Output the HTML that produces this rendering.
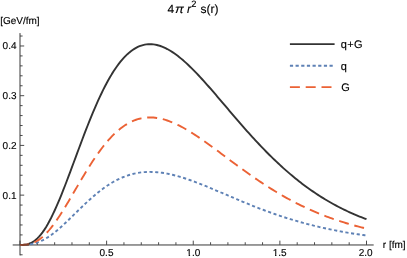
<!DOCTYPE html>
<html><head><meta charset="utf-8"><style>
html,body{margin:0;padding:0;background:#fff;}
body{width:407px;height:258px;overflow:hidden;position:relative;}
svg{position:absolute;left:0;top:0;will-change:transform;}
text{font-family:"Liberation Sans",sans-serif;fill:#000;stroke:#000;stroke-width:0.13px;text-rendering:geometricPrecision;}
</style></head><body>
<svg width="407" height="258" viewBox="0 0 407 258">
<rect width="407" height="258" fill="#fff"/>
<g fill="none" stroke="#383838" stroke-width="1">
<path d="M12.7 244.97 H373.7"/>
<path d="M20.0 33.1 V255.4"/>
</g>
<g fill="none" stroke="#383838" stroke-width="0.9">
<path d="M20.00 244.85 V240.65 M37.33 244.85 V242.25 M54.65 244.85 V242.25 M71.97 244.85 V242.25 M89.30 244.85 V242.25 M106.62 244.85 V240.65 M123.95 244.85 V242.25 M141.28 244.85 V242.25 M158.60 244.85 V242.25 M175.93 244.85 V242.25 M193.25 244.85 V240.65 M210.57 244.85 V242.25 M227.90 244.85 V242.25 M245.22 244.85 V242.25 M262.55 244.85 V242.25 M279.88 244.85 V240.65 M297.20 244.85 V242.25 M314.52 244.85 V242.25 M331.85 244.85 V242.25 M349.18 244.85 V242.25 M366.50 244.85 V240.65"/>
<path d="M20.00 254.79 H22.60 M20.00 244.85 H24.20 M20.00 234.91 H22.60 M20.00 224.96 H22.60 M20.00 215.02 H22.60 M20.00 205.07 H22.60 M20.00 195.13 H24.20 M20.00 185.19 H22.60 M20.00 175.24 H22.60 M20.00 165.30 H22.60 M20.00 155.35 H22.60 M20.00 145.41 H24.20 M20.00 135.47 H22.60 M20.00 125.52 H22.60 M20.00 115.58 H22.60 M20.00 105.63 H22.60 M20.00 95.69 H24.20 M20.00 85.75 H22.60 M20.00 75.80 H22.60 M20.00 65.86 H22.60 M20.00 55.91 H22.60 M20.00 45.97 H24.20 M20.00 36.03 H22.60"/>
</g>
<g fill="none" stroke-linejoin="round">
<path d="M20.00 244.85 L21.73 244.84 L23.46 244.78 L25.20 244.62 L26.93 244.33 L28.66 243.87 L30.39 243.23 L32.13 242.37 L33.86 241.30 L35.59 239.99 L37.33 238.45 L39.06 236.66 L40.79 234.63 L42.52 232.37 L44.26 229.88 L45.99 227.15 L47.72 224.22 L49.45 221.07 L51.19 217.73 L52.92 214.20 L54.65 210.51 L56.38 206.65 L58.12 202.65 L59.85 198.53 L61.58 194.28 L63.31 189.93 L65.05 185.50 L66.78 180.99 L68.51 176.42 L70.24 171.80 L71.97 167.16 L73.71 162.49 L75.44 157.81 L77.17 153.13 L78.91 148.47 L80.64 143.84 L82.37 139.24 L84.10 134.69 L85.83 130.19 L87.57 125.76 L89.30 121.40 L91.03 117.12 L92.77 112.93 L94.50 108.83 L96.23 104.83 L97.96 100.94 L99.70 97.16 L101.43 93.49 L103.16 89.95 L104.89 86.52 L106.62 83.23 L108.36 80.06 L110.09 77.02 L111.82 74.12 L113.56 71.35 L115.29 68.72 L117.02 66.23 L118.75 63.88 L120.48 61.66 L122.22 59.58 L123.95 57.64 L125.68 55.84 L127.42 54.17 L129.15 52.64 L130.88 51.24 L132.61 49.97 L134.34 48.84 L136.08 47.84 L137.81 46.96 L139.54 46.21 L141.28 45.58 L143.01 45.07 L144.74 44.67 L146.47 44.40 L148.21 44.23 L149.94 44.18 L151.67 44.23 L153.40 44.39 L155.13 44.65 L156.87 45.01 L158.60 45.46 L160.33 46.00 L162.06 46.63 L163.80 47.35 L165.53 48.16 L167.26 49.04 L169.00 50.00 L170.73 51.03 L172.46 52.14 L174.19 53.31 L175.93 54.55 L177.66 55.84 L179.39 57.20 L181.12 58.62 L182.86 60.09 L184.59 61.60 L186.32 63.17 L188.05 64.78 L189.78 66.44 L191.52 68.13 L193.25 69.86 L194.98 71.63 L196.72 73.43 L198.45 75.26 L200.18 77.12 L201.91 79.00 L203.65 80.91 L205.38 82.84 L207.11 84.78 L208.84 86.75 L210.58 88.73 L212.31 90.72 L214.04 92.73 L215.77 94.74 L217.51 96.76 L219.24 98.79 L220.97 100.83 L222.70 102.87 L224.44 104.90 L226.17 106.94 L227.90 108.98 L229.63 111.02 L231.37 113.05 L233.10 115.08 L234.83 117.10 L236.56 119.12 L238.29 121.13 L240.03 123.13 L241.76 125.11 L243.49 127.09 L245.22 129.06 L246.96 131.01 L248.69 132.95 L250.42 134.88 L252.16 136.79 L253.89 138.68 L255.62 140.56 L257.35 142.42 L259.09 144.27 L260.82 146.10 L262.55 147.91 L264.28 149.70 L266.01 151.47 L267.75 153.22 L269.48 154.96 L271.21 156.67 L272.94 158.36 L274.68 160.03 L276.41 161.68 L278.14 163.31 L279.88 164.92 L281.61 166.51 L283.34 168.08 L285.07 169.62 L286.81 171.15 L288.54 172.65 L290.27 174.13 L292.00 175.59 L293.74 177.02 L295.47 178.44 L297.20 179.83 L298.93 181.20 L300.67 182.55 L302.40 183.88 L304.13 185.18 L305.86 186.47 L307.60 187.73 L309.33 188.97 L311.06 190.19 L312.79 191.39 L314.52 192.57 L316.26 193.73 L317.99 194.87 L319.72 195.98 L321.45 197.08 L323.19 198.16 L324.92 199.22 L326.65 200.25 L328.38 201.27 L330.12 202.27 L331.85 203.25 L333.58 204.21 L335.31 205.16 L337.05 206.08 L338.78 206.99 L340.51 207.87 L342.25 208.74 L343.98 209.60 L345.71 210.43 L347.44 211.25 L349.18 212.06 L350.91 212.84 L352.64 213.61 L354.37 214.36 L356.11 215.10 L357.84 215.82 L359.57 216.53 L361.30 217.22 L363.04 217.90 L364.77 218.56 L366.50 219.21" stroke="#333" stroke-width="1.9"/>
<path d="M20.00 244.85 L21.73 244.85 L23.46 244.82 L25.20 244.77 L26.93 244.66 L28.66 244.49 L30.39 244.26 L32.13 243.95 L33.86 243.56 L35.59 243.08 L37.33 242.52 L39.06 241.87 L40.79 241.14 L42.52 240.31 L44.26 239.41 L45.99 238.42 L47.72 237.35 L49.45 236.21 L51.19 234.99 L52.92 233.71 L54.65 232.37 L56.38 230.97 L58.12 229.51 L59.85 228.01 L61.58 226.47 L63.31 224.89 L65.05 223.28 L66.78 221.64 L68.51 219.98 L70.24 218.30 L71.97 216.61 L73.71 214.91 L75.44 213.21 L77.17 211.51 L78.91 209.82 L80.64 208.13 L82.37 206.46 L84.10 204.81 L85.83 203.17 L87.57 201.56 L89.30 199.98 L91.03 198.42 L92.77 196.90 L94.50 195.41 L96.23 193.95 L97.96 192.54 L99.70 191.16 L101.43 189.83 L103.16 188.54 L104.89 187.30 L106.62 186.10 L108.36 184.95 L110.09 183.85 L111.82 182.79 L113.56 181.78 L115.29 180.83 L117.02 179.92 L118.75 179.07 L120.48 178.26 L122.22 177.50 L123.95 176.80 L125.68 176.14 L127.42 175.54 L129.15 174.98 L130.88 174.47 L132.61 174.01 L134.34 173.60 L136.08 173.24 L137.81 172.92 L139.54 172.64 L141.28 172.41 L143.01 172.23 L144.74 172.09 L146.47 171.99 L148.21 171.93 L149.94 171.91 L151.67 171.93 L153.40 171.98 L155.13 172.08 L156.87 172.21 L158.60 172.37 L160.33 172.57 L162.06 172.80 L163.80 173.06 L165.53 173.35 L167.26 173.67 L169.00 174.02 L170.73 174.40 L172.46 174.80 L174.19 175.22 L175.93 175.67 L177.66 176.15 L179.39 176.64 L181.12 177.15 L182.86 177.69 L184.59 178.24 L186.32 178.81 L188.05 179.40 L189.78 180.00 L191.52 180.61 L193.25 181.24 L194.98 181.88 L196.72 182.54 L198.45 183.20 L200.18 183.88 L201.91 184.56 L203.65 185.26 L205.38 185.96 L207.11 186.67 L208.84 187.38 L210.58 188.10 L212.31 188.82 L214.04 189.55 L215.77 190.29 L217.51 191.02 L219.24 191.76 L220.97 192.50 L222.70 193.24 L224.44 193.98 L226.17 194.72 L227.90 195.46 L229.63 196.20 L231.37 196.94 L233.10 197.68 L234.83 198.41 L236.56 199.15 L238.29 199.88 L240.03 200.60 L241.76 201.33 L243.49 202.04 L245.22 202.76 L246.96 203.47 L248.69 204.17 L250.42 204.87 L252.16 205.57 L253.89 206.26 L255.62 206.94 L257.35 207.62 L259.09 208.29 L260.82 208.95 L262.55 209.61 L264.28 210.26 L266.01 210.91 L267.75 211.54 L269.48 212.17 L271.21 212.80 L272.94 213.41 L274.68 214.02 L276.41 214.62 L278.14 215.21 L279.88 215.80 L281.61 216.37 L283.34 216.94 L285.07 217.50 L286.81 218.06 L288.54 218.60 L290.27 219.14 L292.00 219.67 L293.74 220.19 L295.47 220.71 L297.20 221.21 L298.93 221.71 L300.67 222.20 L302.40 222.69 L304.13 223.16 L305.86 223.63 L307.60 224.09 L309.33 224.54 L311.06 224.98 L312.79 225.42 L314.52 225.85 L316.26 226.27 L317.99 226.68 L319.72 227.09 L321.45 227.49 L323.19 227.88 L324.92 228.26 L326.65 228.64 L328.38 229.01 L330.12 229.37 L331.85 229.73 L333.58 230.08 L335.31 230.42 L337.05 230.76 L338.78 231.09 L340.51 231.41 L342.25 231.73 L343.98 232.04 L345.71 232.34 L347.44 232.64 L349.18 232.93 L350.91 233.21 L352.64 233.49 L354.37 233.77 L356.11 234.04 L357.84 234.30 L359.57 234.56 L361.30 234.81 L363.04 235.05 L364.77 235.29 L366.50 235.53" stroke="#5e81b5" stroke-width="1.9" stroke-dasharray="3.15 2.57" stroke-dashoffset="1.2"/>
<path d="M20.00 244.85 L21.73 244.84 L23.46 244.81 L25.20 244.70 L26.93 244.52 L28.66 244.23 L30.39 243.82 L32.13 243.28 L33.86 242.59 L35.59 241.76 L37.33 240.78 L39.06 239.65 L40.79 238.36 L42.52 236.93 L44.26 235.34 L45.99 233.61 L47.72 231.75 L49.45 229.75 L51.19 227.63 L52.92 225.39 L54.65 223.04 L56.38 220.59 L58.12 218.06 L59.85 215.43 L61.58 212.74 L63.31 209.98 L65.05 207.16 L66.78 204.30 L68.51 201.40 L70.24 198.47 L71.97 195.51 L73.71 192.55 L75.44 189.58 L77.17 186.61 L78.91 183.65 L80.64 180.71 L82.37 177.79 L84.10 174.90 L85.83 172.04 L87.57 169.23 L89.30 166.46 L91.03 163.74 L92.77 161.08 L94.50 158.48 L96.23 155.94 L97.96 153.47 L99.70 151.07 L101.43 148.74 L103.16 146.49 L104.89 144.31 L106.62 142.22 L108.36 140.21 L110.09 138.28 L111.82 136.44 L113.56 134.68 L115.29 133.01 L117.02 131.43 L118.75 129.93 L120.48 128.52 L122.22 127.20 L123.95 125.97 L125.68 124.83 L127.42 123.77 L129.15 122.80 L130.88 121.91 L132.61 121.10 L134.34 120.38 L136.08 119.75 L137.81 119.19 L139.54 118.71 L141.28 118.31 L143.01 117.99 L144.74 117.74 L146.47 117.56 L148.21 117.46 L149.94 117.42 L151.67 117.46 L153.40 117.56 L155.13 117.72 L156.87 117.95 L158.60 118.24 L160.33 118.58 L162.06 118.98 L163.80 119.44 L165.53 119.95 L167.26 120.51 L169.00 121.12 L170.73 121.78 L172.46 122.48 L174.19 123.22 L175.93 124.01 L177.66 124.83 L179.39 125.69 L181.12 126.59 L182.86 127.52 L184.59 128.49 L186.32 129.48 L188.05 130.51 L189.78 131.56 L191.52 132.63 L193.25 133.73 L194.98 134.86 L196.72 136.00 L198.45 137.16 L200.18 138.34 L201.91 139.54 L203.65 140.75 L205.38 141.97 L207.11 143.21 L208.84 144.46 L210.58 145.71 L212.31 146.98 L214.04 148.25 L215.77 149.53 L217.51 150.82 L219.24 152.10 L220.97 153.40 L222.70 154.69 L224.44 155.98 L226.17 157.28 L227.90 158.57 L229.63 159.87 L231.37 161.16 L233.10 162.45 L234.83 163.73 L236.56 165.01 L238.29 166.29 L240.03 167.56 L241.76 168.82 L243.49 170.07 L245.22 171.32 L246.96 172.56 L248.69 173.79 L250.42 175.02 L252.16 176.23 L253.89 177.43 L255.62 178.63 L257.35 179.81 L259.09 180.98 L260.82 182.14 L262.55 183.29 L264.28 184.43 L266.01 185.55 L267.75 186.67 L269.48 187.77 L271.21 188.85 L272.94 189.93 L274.68 190.99 L276.41 192.04 L278.14 193.08 L279.88 194.10 L281.61 195.11 L283.34 196.10 L285.07 197.08 L286.81 198.05 L288.54 199.00 L290.27 199.94 L292.00 200.87 L293.74 201.78 L295.47 202.68 L297.20 203.56 L298.93 204.43 L300.67 205.29 L302.40 206.13 L304.13 206.96 L305.86 207.78 L307.60 208.58 L309.33 209.37 L311.06 210.14 L312.79 210.90 L314.52 211.65 L316.26 212.39 L317.99 213.11 L319.72 213.82 L321.45 214.52 L323.19 215.20 L324.92 215.87 L326.65 216.53 L328.38 217.18 L330.12 217.81 L331.85 218.43 L333.58 219.05 L335.31 219.64 L337.05 220.23 L338.78 220.81 L340.51 221.37 L342.25 221.92 L343.98 222.46 L345.71 223.00 L347.44 223.52 L349.18 224.03 L350.91 224.52 L352.64 225.01 L354.37 225.49 L356.11 225.96 L357.84 226.42 L359.57 226.87 L361.30 227.31 L363.04 227.74 L364.77 228.16 L366.50 228.57" stroke="#eb6235" stroke-width="1.9" stroke-dasharray="10 5.755" stroke-dashoffset="1"/>
<path d="M20 244.85 L24 244.83 L29 244.73" stroke="#222" stroke-opacity="0.5" stroke-width="1.9"/>
<path d="M289.9 44.1 H334.6" stroke="#333" stroke-width="1.9"/>
<path d="M289.9 65.7 H334.6" stroke="#5e81b5" stroke-width="1.9" stroke-dasharray="3.2 2.46"/>
<path d="M289.9 87.1 H334.6" stroke="#eb6235" stroke-width="1.9" stroke-dasharray="10 5.8"/>
</g>
<g>
<text x="167.5" y="13" font-size="12" >4</text>
<text transform="translate(175.1,13) scale(1.1,1)" font-size="12" font-style="italic">π</text>
<text x="187.1" y="13" font-size="12" font-style="italic">r</text>
<text x="191.2" y="7" font-size="9.3" >2</text>
<text x="200.4" y="13" font-size="12" >s(r)</text>
<text x="0.2" y="24" font-size="10" >[GeV/fm]</text>
<text x="2.6" y="49" font-size="10" >0.4</text>
<text x="2.6" y="99" font-size="10" >0.3</text>
<text x="2.6" y="149" font-size="10" >0.2</text>
<text x="2.6" y="199" font-size="10" >0.1</text>
<text x="99.55" y="256" font-size="10" >0.5</text>
<text x="186.35" y="256" font-size="10" >1.0</text>
<rect x="186.55" y="254.6" width="2.05" height="1.8" fill="#fff"/><rect x="190.10" y="254.6" width="1.9" height="1.8" fill="#fff"/>
<text x="272.75" y="256" font-size="10" >1.5</text>
<rect x="272.95" y="254.6" width="2.05" height="1.8" fill="#fff"/><rect x="276.50" y="254.6" width="1.9" height="1.8" fill="#fff"/>
<text x="358.75" y="256" font-size="10" >2.0</text>
<text x="382.8" y="248" font-size="10" >r [fm]</text>
<text x="340.8" y="48" font-size="11" letter-spacing="0.3">q+G</text>
<text x="340.8" y="70" font-size="11" >q</text>
<text x="341.3" y="91" font-size="11" >G</text>
</g>
</svg>
</body></html>
